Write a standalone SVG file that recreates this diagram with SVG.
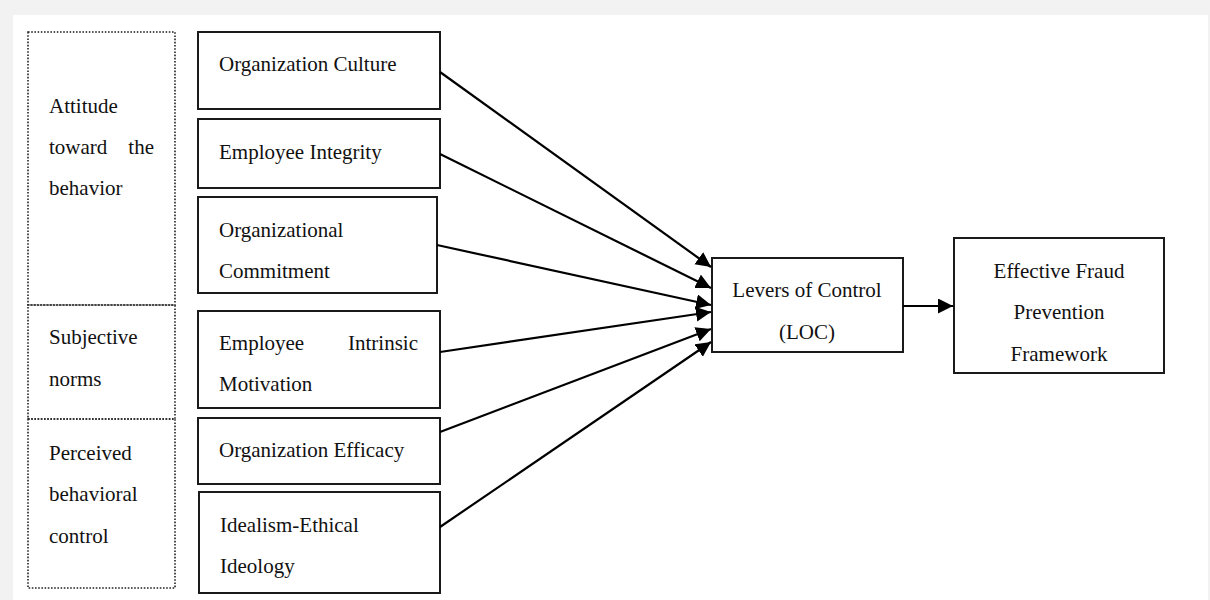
<svg xmlns="http://www.w3.org/2000/svg" width="1210" height="600" viewBox="0 0 1210 600">
<style>
text{font-family:"Liberation Serif","Times New Roman",serif;font-size:21px;fill:#111}
.box{fill:#fff;stroke:#1a1a1a;stroke-width:2}
.dot{fill:none;stroke:#222;stroke-width:1.6;stroke-dasharray:1.6 1.6}
.c{text-anchor:middle}
.e{text-anchor:end}
.conn line{stroke:#000;stroke-width:2.2;marker-end:url(#ah)}
</style>
<defs>
<marker id="ah" markerUnits="userSpaceOnUse" markerWidth="16" markerHeight="16" refX="15" refY="7.5" orient="auto">
<path d="M0,0 L15,7.5 L0,15 z" fill="#000"/>
</marker>
</defs>
<rect x="0" y="0" width="1210" height="600" fill="#f2f2f2"/>
<rect x="13" y="15" width="1195" height="585" fill="#fff"/>

<g id="attitude">
<rect class="dot" x="28" y="32" width="147" height="273"/>
<text x="49" y="113">Attitude</text>
<text x="49" y="154">toward</text><text class="e" x="154" y="154">the</text>
<text x="49" y="195">behavior</text>
</g>
<g id="subjective">
<rect class="dot" x="28" y="305" width="147" height="114"/>
<text x="49" y="344">Subjective</text>
<text x="49" y="386">norms</text>
</g>
<g id="perceived">
<rect class="dot" x="28" y="419" width="147" height="169"/>
<text x="49" y="460">Perceived</text>
<text x="49" y="501">behavioral</text>
<text x="49" y="543">control</text>
</g>

<g id="org-culture">
<rect class="box" x="198" y="32" width="242" height="77"/>
<text x="219" y="71">Organization Culture</text>
</g>
<g id="emp-integrity">
<rect class="box" x="198" y="119" width="242" height="69"/>
<text x="219" y="159">Employee Integrity</text>
</g>
<g id="org-commitment">
<rect class="box" x="198" y="197" width="239" height="96"/>
<text x="219" y="237">Organizational</text>
<text x="219" y="278">Commitment</text>
</g>
<g id="emp-motivation">
<rect class="box" x="198" y="311" width="242" height="97"/>
<text x="219" y="350">Employee</text><text class="e" x="418" y="350">Intrinsic</text>
<text x="219" y="391">Motivation</text>
</g>
<g id="org-efficacy">
<rect class="box" x="198" y="418" width="242" height="66"/>
<text x="219" y="457">Organization Efficacy</text>
</g>
<g id="idealism">
<rect class="box" x="199" y="492" width="241" height="101"/>
<text x="220" y="532">Idealism-Ethical</text>
<text x="220" y="573">Ideology</text>
</g>

<g id="loc">
<rect class="box" x="712" y="258" width="191" height="94"/>
<text class="c" x="807" y="297">Levers of Control</text>
<text class="c" x="807" y="339">(LOC)</text>
</g>
<g id="effective">
<rect class="box" x="954" y="238" width="210" height="135"/>
<text class="c" x="1059" y="278">Effective Fraud</text>
<text class="c" x="1059" y="319">Prevention</text>
<text class="c" x="1059" y="361">Framework</text>
</g>

<g class="conn" id="connectors">
<line x1="440" y1="72" x2="711" y2="267"/>
<line x1="440" y1="154" x2="711" y2="288"/>
<line x1="437" y1="245" x2="711" y2="305"/>
<line x1="440" y1="352" x2="711" y2="312"/>
<line x1="440" y1="432" x2="711" y2="329"/>
<line x1="440" y1="527" x2="711" y2="342"/>
<line x1="903" y1="306" x2="953" y2="306"/>
</g>
</svg>
